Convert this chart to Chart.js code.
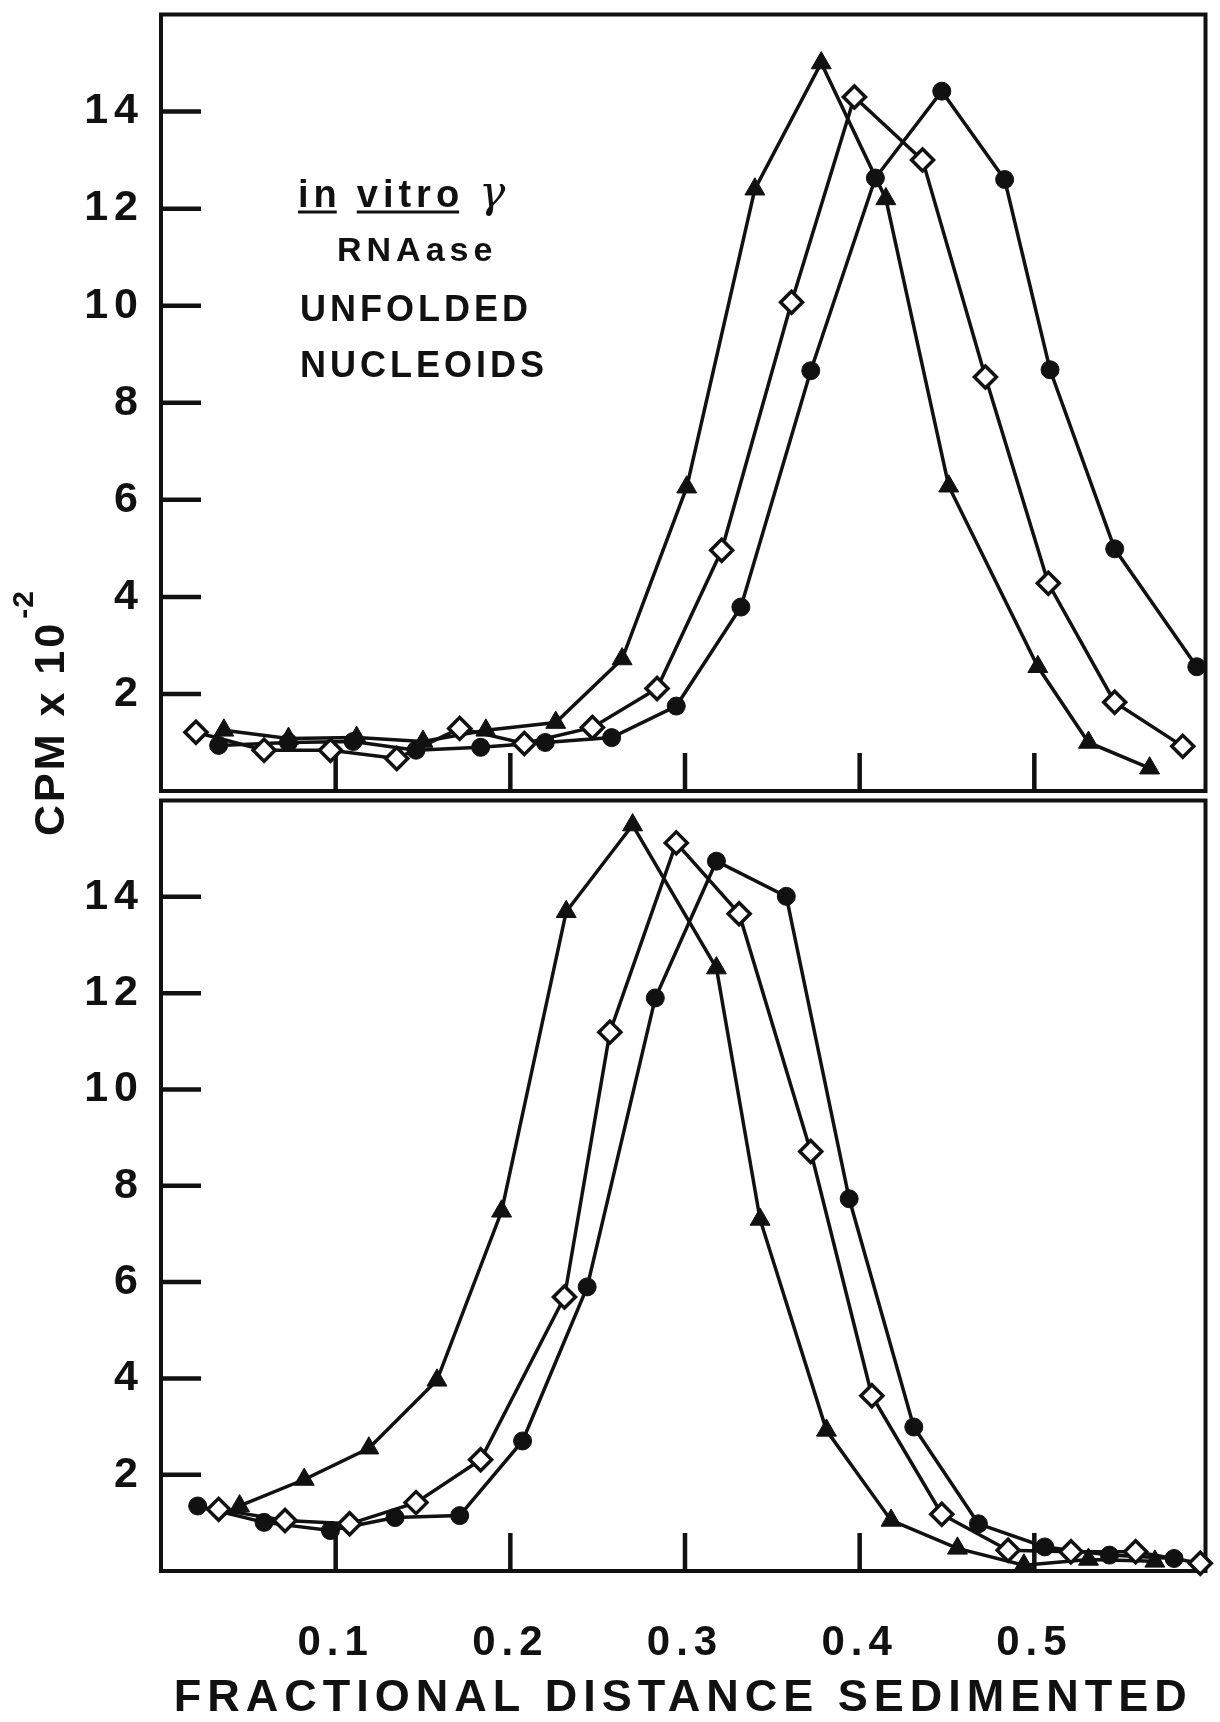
<!DOCTYPE html>
<html>
<head>
<meta charset="utf-8">
<script src="https://cdn.jsdelivr.net/npm/chart.js@4.4.1/dist/chart.umd.min.js"></script>
<style>
  html, body { margin: 0; padding: 0; background: #fff; }
  #wrap { position: relative; width: 1220px; height: 1722px; overflow: hidden; background: #fff; }
  #wrap canvas { position: absolute; left: 0; }
  #topPanel { top: 0; }
  #bottomPanel { top: 786px; }
</style>
</head>
<body>
<div id="wrap">
  <canvas id="bottomPanel" width="1220" height="936"></canvas>
  <canvas id="topPanel" width="1220" height="860"></canvas>
</div>
<script>
// Fractional distance sedimented vs CPM x 10^-2, two gradients

// upper panel: in vitro gamma, RNAase, unfolded nucleoids
const upperTriX = [0.036, 0.073, 0.112, 0.150, 0.186, 0.226, 0.264, 0.301, 0.340, 0.378, 0.415, 0.451, 0.502, 0.531, 0.566];
const upperTriY = [1.25, 1.08, 1.10, 1.02, 1.25, 1.41, 2.72, 6.26, 12.4, 15.0, 12.2, 6.28, 2.56, 1.00, 0.47];
const upperDiaX = [0.020, 0.059, 0.097, 0.135, 0.171, 0.208, 0.247, 0.284, 0.321, 0.361, 0.397, 0.436, 0.472, 0.508, 0.546, 0.585];
const upperDiaY = [1.21, 0.84, 0.84, 0.67, 1.29, 0.98, 1.31, 2.11, 4.96, 10.07, 14.3, 13.0, 8.53, 4.28, 1.83, 0.92];
const upperCirX = [0.033, 0.073, 0.110, 0.146, 0.183, 0.220, 0.258, 0.295, 0.332, 0.372, 0.409, 0.447, 0.483, 0.509, 0.546, 0.593];
const upperCirY = [0.94, 1.00, 1.02, 0.84, 0.90, 1.00, 1.10, 1.75, 3.79, 8.66, 12.63, 14.42, 12.6, 8.68, 4.99, 2.56];

// lower panel
const lowerTriX = [0.045, 0.082, 0.119, 0.158, 0.195, 0.232, 0.270, 0.318, 0.343, 0.381, 0.418, 0.456, 0.494, 0.531, 0.569];
const lowerTriY = [1.35, 1.90, 2.55, 3.96, 7.47, 13.69, 15.49, 12.52, 7.30, 2.92, 1.05, 0.47, 0.12, 0.24, 0.20];
const lowerDiaX = [0.033, 0.071, 0.108, 0.146, 0.183, 0.231, 0.257, 0.295, 0.331, 0.372, 0.407, 0.447, 0.485, 0.521, 0.558, 0.595];
const lowerDiaY = [1.28, 1.05, 0.98, 1.42, 2.31, 5.69, 11.19, 15.12, 13.65, 8.71, 3.64, 1.18, 0.43, 0.40, 0.40, 0.16];
const lowerCirX = [0.021, 0.059, 0.097, 0.134, 0.171, 0.207, 0.244, 0.283, 0.318, 0.358, 0.394, 0.431, 0.468, 0.506, 0.543, 0.580];
const lowerCirY = [1.35, 1.01, 0.84, 1.11, 1.15, 2.70, 5.90, 11.90, 14.74, 14.01, 7.73, 2.99, 0.98, 0.50, 0.33, 0.26];

// axes
const xTickValues = [0.1, 0.2, 0.3, 0.4, 0.5];
const yTickValues = [2, 4, 6, 8, 10, 12, 14];
const xMax = 0.598;
const yMax = 16;

const ink = '#111';
const fontFamily = '"Liberation Sans", Arial, sans-serif';
Chart.defaults.font.family = fontFamily;
Chart.defaults.color = ink;

function points(xs, ys) {
    return xs.map((x, i) => ({ x, y: ys[i] }));
}

const markerStyles = {
    tri: { pointStyle: 'triangle', pointRadius: 11.5, pointBackgroundColor: ink, pointBorderColor: ink, pointBorderWidth: 1 },
    dia: { pointStyle: 'rectRot', pointRadius: 11, pointBackgroundColor: '#fff', pointBorderColor: ink, pointBorderWidth: 3.5 },
    cir: { pointStyle: 'circle', pointRadius: 9, pointBackgroundColor: ink, pointBorderColor: ink, pointBorderWidth: 1 }
};

function series(xs, ys, kind) {
    return {
        data: points(xs, ys),
        borderColor: ink,
        borderWidth: 3.5,
        fill: false,
        tension: 0,
        clip: false,
        ...markerStyles[kind]
    };
}

// no room kept for half tick labels at the scale ends
function tightPadding(s) {
    s.paddingTop = 0;
    s.paddingBottom = 0;
    s.paddingLeft = 0;
    s.paddingRight = 0;
}

// box, inward y ticks and inward x ticks for each panel
const panelFrame = {
    id: 'panelFrame',
    beforeDraw(chart) {
        chart.ctx.letterSpacing = '6px';
    },
    beforeDatasetsDraw(chart) {
        const { ctx, chartArea: a, scales: { x, y } } = chart;
        ctx.save();
        ctx.strokeStyle = ink;
        ctx.lineWidth = 4;
        ctx.strokeRect(a.left, a.top, a.right - a.left, a.bottom - a.top);
        ctx.lineWidth = 4.5;
        ctx.beginPath();
        yTickValues.forEach(v => {
            const py = y.getPixelForValue(v);
            ctx.moveTo(a.left, py);
            ctx.lineTo(a.left + 40, py);
        });
        xTickValues.forEach(v => {
            const px = x.getPixelForValue(v);
            ctx.moveTo(px, a.bottom);
            ctx.lineTo(px, a.bottom - 38);
        });
        ctx.stroke();
        ctx.restore();
    }
};

// legend text block and the shared y title
const upperNotes = {
    id: 'upperNotes',
    afterDraw(chart) {
        const ctx = chart.ctx;
        ctx.save();
        ctx.fillStyle = ink;
        ctx.strokeStyle = ink;
        ctx.textAlign = 'left';
        ctx.textBaseline = 'alphabetic';

        ctx.font = `bold 38px ${fontFamily}`;
        ctx.letterSpacing = '5px';
        let x = 298;
        const base = 207;
        ['in', 'vitro'].forEach(word => {
            ctx.fillText(word, x, base);
            const w = ctx.measureText(word).width - 5;
            ctx.lineWidth = 3;
            ctx.beginPath();
            ctx.moveTo(x, base + 5);
            ctx.lineTo(x + w, base + 5);
            ctx.stroke();
            x += w + 20;
        });
        ctx.font = 'italic 44px "DejaVu Serif", serif';
        ctx.letterSpacing = '0px';
        ctx.fillText('\u03b3', x, base);

        ctx.font = `bold 34px ${fontFamily}`;
        ctx.letterSpacing = '5px';
        ctx.fillText('RNAase', 337, 261);
        ctx.font = `bold 36px ${fontFamily}`;
        ctx.letterSpacing = '4px';
        ctx.fillText('UNFOLDED', 300, 321);
        ctx.fillText('NUCLEOIDS', 300, 377);

        // CPM x 10^-2, reading upward
        ctx.translate(64, 836);
        ctx.rotate(-Math.PI / 2);
        ctx.font = `bold 43px ${fontFamily}`;
        ctx.letterSpacing = '3px';
        const main = 'CPM x 10';
        ctx.fillText(main, 0, 0);
        const mw = ctx.measureText(main).width;
        ctx.font = `bold 30px ${fontFamily}`;
        ctx.letterSpacing = '1px';
        ctx.fillText('-2', mw + 2, -31);
        ctx.restore();
    }
};

const tickFont = { family: fontFamily, size: 43, weight: 'bold' };

function yScale() {
    return {
        type: 'linear',
        min: 0,
        max: yMax,
        afterBuildTicks: s => { s.ticks = yTickValues.map(v => ({ value: v })); },
        afterFit: s => { s.width = 161; tightPadding(s); },
        grid: { display: false, drawTicks: false },
        border: { display: false },
        ticks: { color: ink, padding: 17, font: tickFont, callback: v => String(v) }
    };
}

const commonOptions = {
    responsive: false,
    animation: false,
    devicePixelRatio: 1,
    plugins: { legend: { display: false }, tooltip: { enabled: false } }
};

new Chart(document.getElementById('topPanel'), {
    type: 'line',
    data: {
        datasets: [
            series(upperDiaX, upperDiaY, 'dia'),
            series(upperTriX, upperTriY, 'tri'),
            series(upperCirX, upperCirY, 'cir')
        ]
    },
    options: {
        ...commonOptions,
        layout: { padding: { top: 11, right: 3, bottom: 69, left: 0 } },
        scales: {
            x: { type: 'linear', min: 0, max: xMax, display: false },
            y: yScale()
        }
    },
    plugins: [panelFrame, upperNotes]
});

new Chart(document.getElementById('bottomPanel'), {
    type: 'line',
    data: {
        datasets: [
            series(lowerDiaX, lowerDiaY, 'dia'),
            series(lowerTriX, lowerTriY, 'tri'),
            series(lowerCirX, lowerCirY, 'cir')
        ]
    },
    options: {
        ...commonOptions,
        layout: { padding: { top: 5, right: 3, bottom: 0, left: 0 } },
        scales: {
            x: {
                type: 'linear',
                min: 0,
                max: xMax,
                position: 'bottom',
                afterBuildTicks: s => { s.ticks = xTickValues.map(v => ({ value: v })); },
                afterFit: s => { s.height = 151; tightPadding(s); },
                grid: { display: false, drawTicks: false },
                border: { display: false },
                ticks: {
                    color: ink,
                    padding: 47,
                    maxRotation: 0,
                    font: { family: fontFamily, size: 42, weight: 'bold' },
                    callback: v => v.toFixed(1)
                },
                title: {
                    display: true,
                    text: 'FRACTIONAL DISTANCE SEDIMENTED',
                    color: ink,
                    font: { family: fontFamily, size: 45, weight: 'bold', lineHeight: 1 },
                    padding: { top: 0, bottom: 1 }
                }
            },
            y: yScale()
        }
    },
    plugins: [panelFrame]
});
</script>
</body>
</html>
